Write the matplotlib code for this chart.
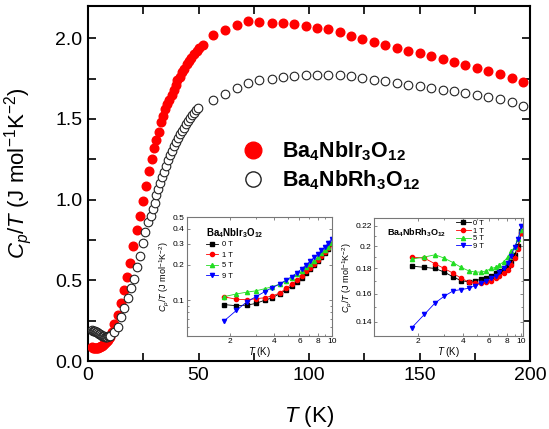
import matplotlib
matplotlib.use('Agg')
import matplotlib.pyplot as plt
from matplotlib.lines import Line2D
from matplotlib.ticker import MultipleLocator, FixedLocator, NullFormatter

plt.rcParams['font.family'] = ['Liberation Sans', 'DejaVu Sans']
plt.rcParams['mathtext.fontset'] = 'custom'
plt.rcParams['mathtext.rm'] = 'Liberation Sans'
plt.rcParams['mathtext.it'] = 'Liberation Sans:italic'
plt.rcParams['mathtext.bf'] = 'Liberation Sans:bold'

# ---------------- main panel data ----------------
ir_T = [1.8, 2.2, 2.6, 3.0, 3.45, 3.9, 4.4, 4.85, 5.3, 5.8, 6.25, 6.7, 7.1, 7.6, 8.1, 8.5, 9.0, 9.5, 10.0,
        10.7, 11.9, 13.4, 14.9, 16.2, 17.5, 19.0, 20.5, 22.0, 23.6, 25.0, 26.3, 27.7, 29.0, 29.9, 30.9,
        32.1, 33.2, 34.1, 35.0, 35.9, 36.8, 37.9, 38.8, 39.7, 40.4, 41.5, 42.5, 43.6, 44.6, 45.7, 46.7,
        48.0, 49.2, 50.4, 51.9,
        56.7, 62.0, 67.3, 72.5, 77.5, 83.1, 88.1, 93.2, 98.5, 103.6, 108.8, 113.9, 119.0, 124.1, 129.3,
        134.5, 139.7, 144.8, 150.1, 155.2, 160.5, 165.6, 170.7, 175.9, 181.1, 186.4, 191.7, 197.0]
ir_C = [0.085, 0.080, 0.078, 0.078, 0.079, 0.080, 0.082, 0.085, 0.088, 0.092, 0.096, 0.100, 0.105, 0.110,
        0.117, 0.124, 0.132, 0.140, 0.150,
        0.18, 0.229, 0.285, 0.357, 0.44, 0.52, 0.61, 0.71, 0.81, 0.90, 0.99, 1.085, 1.18, 1.25, 1.32, 1.37,
        1.42, 1.48, 1.52, 1.56, 1.59, 1.62, 1.65, 1.68, 1.71, 1.74, 1.76, 1.79, 1.81, 1.84, 1.86, 1.88,
        1.90, 1.92, 1.94, 1.96,
        2.02, 2.05, 2.08, 2.11, 2.10, 2.092, 2.095, 2.086, 2.076, 2.066, 2.056, 2.041, 2.016, 1.996, 1.979,
        1.961, 1.940, 1.924, 1.909, 1.890, 1.872, 1.855, 1.837, 1.814, 1.798, 1.777, 1.754, 1.729]

rh_T = [1.8, 2.2, 2.6, 3.0, 3.45, 3.9, 4.4, 4.85, 5.3, 5.8, 6.25, 6.7, 7.1, 7.6, 8.1, 8.5, 9.0, 9.5, 10.0,
        11.9, 13.4, 14.9, 16.4, 18.0, 19.5, 21.0, 22.3, 23.4, 24.7, 26.0, 27.3, 28.3, 29.3, 30.1, 30.8,
        31.7, 32.6, 33.5, 34.5, 35.4, 36.3, 37.2, 38.1, 39.0, 40.0, 40.9, 41.8, 42.7, 43.6, 44.5, 45.4,
        46.3, 47.2, 48.1, 49.0, 49.9,
        56.7, 62.0, 67.3, 72.5, 77.5, 83.1, 88.1, 93.2, 98.5, 103.6, 108.8, 113.9, 119.0, 124.1, 129.3,
        134.5, 139.7, 144.8, 150.1, 155.2, 160.5, 165.6, 170.7, 175.9, 181.1, 186.4, 191.7, 197.0]
rh_C = [0.190, 0.188, 0.185, 0.183, 0.180, 0.177, 0.172, 0.168, 0.165, 0.161, 0.158, 0.155, 0.153, 0.151,
        0.150, 0.150, 0.152, 0.155, 0.158,
        0.18, 0.212, 0.27, 0.33, 0.39, 0.45, 0.51, 0.58, 0.65, 0.73, 0.80, 0.86, 0.90, 0.94, 0.98, 1.028,
        1.069, 1.104, 1.141, 1.172, 1.209, 1.245, 1.274, 1.302, 1.331, 1.356, 1.381, 1.404, 1.426, 1.447,
        1.468, 1.488, 1.507, 1.523, 1.540, 1.554, 1.571,
        1.616, 1.657, 1.694, 1.725, 1.740, 1.748, 1.761, 1.769, 1.771, 1.771, 1.773, 1.771, 1.765, 1.754,
        1.744, 1.734, 1.723, 1.713, 1.703, 1.692, 1.682, 1.672, 1.661, 1.651, 1.636, 1.622, 1.605, 1.578]

# ---------------- inset data ----------------
inset_T = [1.8, 2.2, 2.6, 3.0, 3.45, 3.9, 4.4, 4.85, 5.3, 5.8, 6.25, 6.7, 7.1, 7.6, 8.1, 8.5, 9.0, 9.5, 10.0]
ir_0T = [0.092, 0.090, 0.091, 0.094, 0.100, 0.105, 0.114, 0.122, 0.132, 0.143, 0.155, 0.169, 0.183, 0.198,
         0.213, 0.230, 0.250, 0.270, 0.295]
ir_1T = [0.107, 0.102, 0.101, 0.103, 0.105, 0.109, 0.115, 0.126, 0.136, 0.148, 0.160, 0.175, 0.188, 0.203,
         0.220, 0.238, 0.256, 0.276, 0.300]
ir_5T = [0.107, 0.113, 0.117, 0.120, 0.125, 0.130, 0.137, 0.146, 0.154, 0.165, 0.176, 0.189, 0.202, 0.216,
         0.232, 0.248, 0.264, 0.282, 0.306]
ir_9T = [0.0665, 0.082, 0.097, 0.107, 0.118, 0.128, 0.137, 0.148, 0.158, 0.171, 0.185, 0.199, 0.213, 0.230,
         0.246, 0.263, 0.282, 0.303, 0.330]

rh_0T = [0.182, 0.181, 0.180, 0.177, 0.173, 0.170, 0.169, 0.170, 0.171, 0.172, 0.174, 0.176, 0.178, 0.179,
         0.182, 0.186, 0.192, 0.200, 0.215]
rh_1T = [0.190, 0.189, 0.184, 0.180, 0.176, 0.172, 0.169, 0.168, 0.168, 0.169, 0.170, 0.172, 0.174, 0.176,
         0.179, 0.183, 0.189, 0.197, 0.213]
rh_5T = [0.188, 0.190, 0.192, 0.189, 0.185, 0.181, 0.178, 0.177, 0.177, 0.178, 0.180, 0.181, 0.183, 0.186,
         0.190, 0.195, 0.199, 0.207, 0.216]
rh_9T = [0.136, 0.145, 0.153, 0.158, 0.162, 0.163, 0.164, 0.166, 0.168, 0.170, 0.172, 0.174, 0.177, 0.180,
         0.185, 0.191, 0.199, 0.207, 0.220]

field_labels = ['0 T', '1 T', '5 T', '9 T']
field_colors = ['black', '#ff0000', '#22dd22', '#0000ff']
field_markers = ['s', 'o', '^', 'v']

ir_label = r'Ba$_\mathbf{4}$NbIr$_\mathbf{3}$O$_\mathbf{12}$'
rh_label = r'Ba$_\mathbf{4}$NbRh$_\mathbf{3}$O$_\mathbf{12}$'
ylab = r'$C_p/T$ (J mol$^{-1}$K$^{-2}$)'
xlab = r'$T$ (K)'

fig = plt.figure(figsize=(5.49, 4.29), dpi=100)
ax = fig.add_axes([0.1603, 0.1585, 0.8051, 0.8275])

ax.plot(ir_T, ir_C, 'o', color='#ff0000', mec='#ff0000', ms=6.2, ls='none', zorder=3)
ax.plot(rh_T, rh_C, 'o', mfc='white', mec='#222222', mew=0.8, ms=6.2, ls='none', zorder=4)

ax.set_xlim(0, 200)
ax.set_ylim(0, 2.2)
ax.xaxis.set_major_locator(MultipleLocator(50))
ax.xaxis.set_minor_locator(MultipleLocator(25))
ax.yaxis.set_major_locator(MultipleLocator(0.5))
ax.yaxis.set_minor_locator(MultipleLocator(0.25))
ax.yaxis.set_major_formatter(matplotlib.ticker.FormatStrFormatter('%.1f'))
ax.tick_params(which='both', direction='in', top=True, right=True, length=6, width=1.2,
               labelsize=14, pad=4)
for s in ax.spines.values():
    s.set_linewidth(1.5)
ax.set_xlabel(xlab, fontsize=16)
ax.set_ylabel(ylab, fontsize=16)
ax.xaxis.set_label_coords(0.5, -0.12)
ax.yaxis.set_label_coords(-0.122, 0.53)

handles = [Line2D([], [], marker='o', ls='none', color='#ff0000', ms=12),
           Line2D([], [], marker='o', ls='none', mfc='white', mec='#222222', mew=1.0, ms=11)]
leg = ax.legend(handles, [ir_label, rh_label], loc='center left', bbox_to_anchor=(0.348, 0.549),
                frameon=False, fontsize=15.5, handlelength=1.0, handletextpad=0.85,
                labelspacing=0.25, borderpad=0, borderaxespad=0)
for t in leg.get_texts():
    t.set_fontweight('bold')


def style_inset(a):
    for s in a.spines.values():
        s.set_linewidth(0.8)
        s.set_color('#777777')
    a.tick_params(which='both', direction='in', top=True, right=True, labelsize=6, pad=1.5,
                  width=0.5, color='#555555')
    a.tick_params(which='major', length=2.5)
    a.tick_params(which='minor', length=1.5)


# ---------------- inset 1 (Ir) ----------------
ax1 = fig.add_axes([0.340, 0.2168, 0.264, 0.2767])
for vals, lab, c, m in zip([ir_0T, ir_1T, ir_5T, ir_9T], field_labels, field_colors, field_markers):
    ax1.plot(inset_T, vals, marker=m, color=c, ms=3, lw=0.6, label=lab)
ax1.set_xscale('log')
ax1.set_yscale('log')
ax1.set_xlim(1, 10)
ax1.set_ylim(0.05, 0.5)
ax1.xaxis.set_major_locator(FixedLocator([2, 4, 6, 8, 10]))
ax1.set_xticklabels(['2', '4', '6', '8', '10'])
ax1.xaxis.set_minor_locator(FixedLocator([3, 5, 7, 9]))
ax1.xaxis.set_minor_formatter(NullFormatter())
ax1.yaxis.set_major_locator(FixedLocator([0.1, 0.2, 0.3, 0.4, 0.5]))
ax1.set_yticklabels(['0.1', '0.2', '0.3', '0.4', '0.5'])
ax1.yaxis.set_minor_locator(FixedLocator([0.06, 0.07, 0.08, 0.09]))
ax1.yaxis.set_minor_formatter(NullFormatter())
style_inset(ax1)
ax1.set_xlabel(xlab, fontsize=7, labelpad=0)
ax1.set_ylabel(ylab, fontsize=6.5, labelpad=1)
ax1.text(0.135, 0.87, ir_label, transform=ax1.transAxes, fontsize=7, fontweight='bold',
         ha='left', va='center')
ax1.legend(loc='upper left', bbox_to_anchor=(0.135, 0.80), frameon=False, fontsize=5.5,
           handlelength=1.6, handletextpad=0.5, labelspacing=0.4, borderpad=0, borderaxespad=0)

# ---------------- inset 2 (Rh) ----------------
ax2 = fig.add_axes([0.681, 0.2168, 0.2709, 0.2744])
for vals, lab, c, m in zip([rh_0T, rh_1T, rh_5T, rh_9T], field_labels, field_colors, field_markers):
    ax2.plot(inset_T, vals, marker=m, color=c, ms=3, lw=0.6, label=lab)
ax2.set_xscale('log')
ax2.set_yscale('log')
ax2.set_xlim(1, 10.2)
ax2.set_ylim(0.131, 0.228)
ax2.xaxis.set_major_locator(FixedLocator([2, 4, 6, 8, 10]))
ax2.set_xticklabels(['2', '4', '6', '8', '10'])
ax2.xaxis.set_minor_locator(FixedLocator([3, 5, 7, 9]))
ax2.xaxis.set_minor_formatter(NullFormatter())
ax2.yaxis.set_major_locator(FixedLocator([0.14, 0.16, 0.18, 0.2, 0.22]))
ax2.set_yticklabels(['0.14', '0.16', '0.18', '0.2', '0.22'])
ax2.yaxis.set_minor_locator(FixedLocator([0.15, 0.17, 0.19, 0.21]))
ax2.yaxis.set_minor_formatter(NullFormatter())
style_inset(ax2)
ax2.set_xlabel(xlab, fontsize=7, labelpad=0)
ax2.set_ylabel(ylab, fontsize=6.5, labelpad=1)
ax2.text(0.085, 0.88, rh_label, transform=ax2.transAxes, fontsize=6.5, fontweight='bold',
         ha='left', va='center')
ax2.legend(loc='upper left', bbox_to_anchor=(0.55, 0.99), frameon=False, fontsize=5.5,
           handlelength=2.0, handletextpad=0.3, labelspacing=0.05, borderpad=0, borderaxespad=0)

fig.savefig('out.png', dpi=100)
